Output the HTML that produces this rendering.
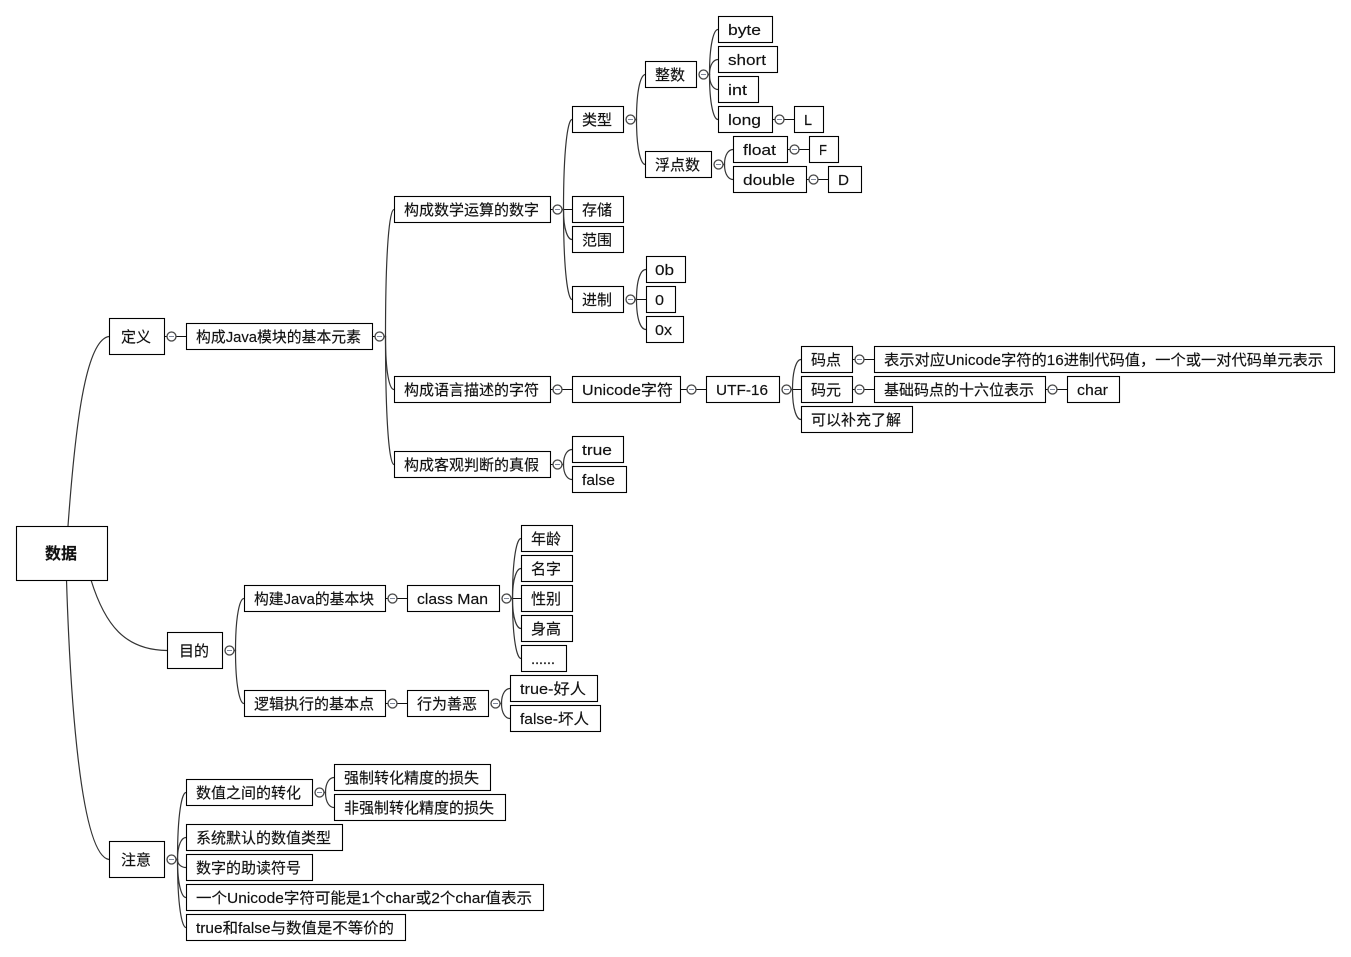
<!DOCTYPE html>
<html lang="zh">
<head>
<meta charset="utf-8">
<title>数据</title>
<style>
html,body{margin:0;padding:0;background:#fff;width:1351px;height:957px;overflow:hidden}
svg{display:block;position:absolute;left:0;top:0}
.l{fill:none;stroke:#333;stroke-width:1.2}
.s{fill:none;stroke:#111;stroke-width:1}
.b{fill:#fff;stroke:#000;stroke-width:1.1}
.c{fill:#fff;stroke:#444;stroke-width:1.3}
.m{stroke:#7f889c;stroke-width:1}
text{font-family:"Liberation Sans","Noto Sans CJK SC",sans-serif;font-size:15px;fill:#111;stroke:#111;stroke-width:.15}
.r{font-size:16px;font-weight:bold;fill:#111}
</style>
</head>
<body>
<svg width="1351" height="957" viewBox="0 0 1351 957" xmlns="http://www.w3.org/2000/svg">
<!-- root curves -->
<path class="l" d="M68 526C75 430 85 340 109 336.5"/>
<path class="l" d="M91 580C105 625 125 650 167 650.5"/>
<path class="l" d="M66.5 580C70 690 80 855 109 859.5"/>

<!-- 定义 branch -->
<path class="s" d="M165 336.5H186M373 336.5H378"/>
<path class="l" d="M383.5 336.5H385.5C385.5 247.5 389.5 209.5 394 209.5"/>
<path class="l" d="M383.5 336.5H385.5C385.5 373 389.5 389.5 394 389.5"/>
<path class="l" d="M383.5 336.5H385.5C385.5 426 389.5 464.5 394 464.5"/>

<path class="s" d="M551 209.5H553"/>
<path class="l" d="M561.5 209.5H563.5C563.5 146.5 568 119.5 572 119.5"/>
<path class="s" d="M561.5 209.5H572"/>
<path class="l" d="M561.500 209.500H563.500C563.500 230.500 568 239.500 572 239.500"/>
<path class="l" d="M561.500 209.500H563.500C563.500 272.500 568 299.500 572 299.500"/>

<path class="l" d="M634.500 119.500H636.500C636.500 88 641 74.500 645.500 74.500"/>
<path class="l" d="M634.500 119.500H636.500C636.500 151 641 164.500 645.500 164.500"/>
<path class="l" d="M707.500 74.500H709.500C709.500 43 714 29.500 718 29.500"/>
<path class="l" d="M707.500 74.500H709.500C709.500 64 714 59.500 718 59.500"/>
<path class="l" d="M707.500 74.500H709.500C709.500 85 714 89.500 718 89.500"/>
<path class="l" d="M707.500 74.500H709.500C709.500 106 714 119.500 718 119.500"/>
<path class="s" d="M773 119.500H794"/>
<path class="l" d="M722.500 164.500H724.500C724.500 154 729 149.500 733 149.500"/>
<path class="l" d="M722.500 164.500H724.500C724.500 175 729 179.500 733 179.500"/>
<path class="s" d="M788 149.500H809M807 179.500H828"/>

<path class="l" d="M634.500 299.500H636.500C636.500 278.500 641 269.500 646 269.500"/>
<path class="s" d="M634.500 299.500H646"/>
<path class="l" d="M634.500 299.500H636.500C636.500 320.500 641 329.500 646 329.500"/>

<path class="s" d="M551 389.500H572M681 389.500H706"/>
<path class="l" d="M790.500 389.500H792.500C792.500 368.500 797 359.500 801 359.500"/>
<path class="s" d="M790.500 389.500H801"/>
<path class="l" d="M790.500 389.500H792.500C792.500 410.500 797 419.500 801 419.500"/>
<path class="s" d="M852 359.500H874M852 389.500H874M1046 389.500H1067"/>

<path class="s" d="M551 464.500H553"/>
<path class="l" d="M561.500 464.500H563.500C563.500 454 568 449.500 572 449.500"/>
<path class="l" d="M561.500 464.500H563.500C563.500 475 568 479.500 572 479.500"/>

<!-- 目的 branch -->
<path class="l" d="M233.500 650.500H235.500C235.500 614 240 598.500 244 598.500"/>
<path class="l" d="M233.500 650.500H235.500C235.500 687.500 240 703.500 244 703.500"/>
<path class="s" d="M386 598.500H407M386 703.500H407"/>
<path class="l" d="M510.500 598.500H512.500C512.500 556.500 517 538.500 521 538.500"/>
<path class="l" d="M510.500 598.500H512.500C512.500 577.500 517 568.500 521 568.500"/>
<path class="s" d="M510.500 598.500H521"/>
<path class="l" d="M510.500 598.500H512.500C512.500 619.500 517 628.500 521 628.500"/>
<path class="l" d="M510.500 598.500H512.500C512.500 640.500 517 658.500 521 658.500"/>
<path class="l" d="M499.500 703.500H501.500C501.500 693 506 688.500 510 688.500"/>
<path class="l" d="M499.500 703.500H501.500C501.500 714 506 718.500 510 718.500"/>

<!-- 注意 branch -->
<path class="l" d="M175.500 859.500H177.500C177.500 812.500 182 792.500 186 792.500"/>
<path class="l" d="M175.500 859.500H177.500C177.500 844 182 837.500 186 837.500"/>
<path class="l" d="M175.500 859.500H177.500C177.500 865 182 867.500 186 867.500"/>
<path class="l" d="M175.500 859.500H177.500C177.500 886 182 897.500 186 897.500"/>
<path class="l" d="M175.500 859.500H177.500C177.500 907 182 927.500 186 927.500"/>
<path class="l" d="M323.500 792.500H325.500C325.500 782 330 777.500 334 777.500"/>
<path class="l" d="M323.500 792.500H325.500C325.500 803 330 807.500 334 807.500"/>

<!-- nodes -->
<rect class="b" x="16.5" y="526.500" width="91" height="54"/><text class="r" x="45" y="559" textLength="32">数据</text>
<rect class="b" x="109.500" y="318.500" width="55" height="36"/><text x="121" y="342" textLength="30">定义</text>
<rect class="b" x="186.500" y="323.500" width="186" height="26"/><text x="196" y="342" textLength="165" lengthAdjust="spacingAndGlyphs">构成Java模块的基本元素</text>
<rect class="b" x="394.500" y="196.500" width="156" height="26"/><text x="404" y="215" textLength="135">构成数学运算的数字</text>
<rect class="b" x="394.500" y="376.500" width="156" height="26"/><text x="404" y="395" textLength="135">构成语言描述的字符</text>
<rect class="b" x="394.500" y="451.500" width="156" height="26"/><text x="404" y="470" textLength="135">构成客观判断的真假</text>
<rect class="b" x="572.500" y="106.500" width="51" height="26"/><text x="582" y="125" textLength="30">类型</text>
<rect class="b" x="572.500" y="196.500" width="51" height="26"/><text x="582" y="215" textLength="30">存储</text>
<rect class="b" x="572.500" y="226.500" width="51" height="26"/><text x="582" y="245" textLength="30">范围</text>
<rect class="b" x="572.500" y="286.500" width="51" height="26"/><text x="582" y="305" textLength="30">进制</text>
<rect class="b" x="645.500" y="61.500" width="51" height="26"/><text x="655" y="80" textLength="30">整数</text>
<rect class="b" x="645.500" y="151.500" width="66" height="26"/><text x="655" y="170" textLength="45">浮点数</text>
<rect class="b" x="718.500" y="16.500" width="54" height="26"/><text x="728" y="35" textLength="33" lengthAdjust="spacingAndGlyphs">byte</text>
<rect class="b" x="718.500" y="46.500" width="59" height="26"/><text x="728" y="65" textLength="38" lengthAdjust="spacingAndGlyphs">short</text>
<rect class="b" x="718.500" y="76.500" width="40" height="26"/><text x="728" y="95" textLength="19" lengthAdjust="spacingAndGlyphs">int</text>
<rect class="b" x="718.500" y="106.500" width="54" height="26"/><text x="728" y="125" textLength="33" lengthAdjust="spacingAndGlyphs">long</text>
<rect class="b" x="794.500" y="106.500" width="29" height="26"/><text x="804" y="125" textLength="8" lengthAdjust="spacingAndGlyphs">L</text>
<rect class="b" x="733.500" y="136.500" width="54" height="26"/><text x="743" y="155" textLength="33" lengthAdjust="spacingAndGlyphs">float</text>
<rect class="b" x="809.500" y="136.500" width="29" height="26"/><text x="819" y="155" textLength="8" lengthAdjust="spacingAndGlyphs">F</text>
<rect class="b" x="733.500" y="166.500" width="73" height="26"/><text x="743" y="185" textLength="52" lengthAdjust="spacingAndGlyphs">double</text>
<rect class="b" x="828.500" y="166.500" width="33" height="26"/><text x="838" y="185" textLength="11" lengthAdjust="spacingAndGlyphs">D</text>
<rect class="b" x="646.500" y="256.500" width="39" height="26"/><text x="655" y="275" textLength="19" lengthAdjust="spacingAndGlyphs">0b</text>
<rect class="b" x="646.500" y="286.500" width="29" height="26"/><text x="655" y="305" textLength="9" lengthAdjust="spacingAndGlyphs">0</text>
<rect class="b" x="646.500" y="316.500" width="37" height="26"/><text x="655" y="335" textLength="17" lengthAdjust="spacingAndGlyphs">0x</text>
<rect class="b" x="572.500" y="376.500" width="108" height="26"/><text x="582" y="395" textLength="91" lengthAdjust="spacingAndGlyphs">Unicode字符</text>
<rect class="b" x="706.500" y="376.500" width="73" height="26"/><text x="716" y="395" textLength="52" lengthAdjust="spacingAndGlyphs">UTF-16</text>
<rect class="b" x="801.500" y="346.500" width="51" height="26"/><text x="811" y="365" textLength="30">码点</text>
<rect class="b" x="801.500" y="376.500" width="51" height="26"/><text x="811" y="395" textLength="30">码元</text>
<rect class="b" x="801.500" y="406.500" width="111" height="26"/><text x="811" y="425" textLength="90">可以补充了解</text>
<rect class="b" x="874.500" y="346.500" width="460" height="26"/><text x="884" y="365" textLength="439" lengthAdjust="spacingAndGlyphs">表示对应Unicode字符的16进制代码值，一个或一对代码单元表示</text>
<rect class="b" x="874.500" y="376.500" width="171" height="26"/><text x="884" y="395" textLength="150">基础码点的十六位表示</text>
<rect class="b" x="1067.500" y="376.500" width="52" height="26"/><text x="1077" y="395" textLength="31" lengthAdjust="spacingAndGlyphs">char</text>
<rect class="b" x="572.500" y="436.500" width="51" height="26"/><text x="582" y="455" textLength="30" lengthAdjust="spacingAndGlyphs">true</text>
<rect class="b" x="572.500" y="466.500" width="54" height="26"/><text x="582" y="485" textLength="33" lengthAdjust="spacingAndGlyphs">false</text>
<rect class="b" x="167.500" y="632.500" width="55" height="36"/><text x="179" y="656" textLength="30">目的</text>
<rect class="b" x="244.500" y="585.500" width="141" height="26"/><text x="254" y="604" textLength="120" lengthAdjust="spacingAndGlyphs">构建Java的基本块</text>
<rect class="b" x="407.500" y="585.500" width="92" height="26"/><text x="417" y="604" textLength="71" lengthAdjust="spacingAndGlyphs">class Man</text>
<rect class="b" x="521.500" y="525.500" width="51" height="26"/><text x="531" y="544" textLength="30">年龄</text>
<rect class="b" x="521.500" y="555.500" width="51" height="26"/><text x="531" y="574" textLength="30">名字</text>
<rect class="b" x="521.500" y="585.500" width="51" height="26"/><text x="531" y="604" textLength="30">性别</text>
<rect class="b" x="521.500" y="615.500" width="51" height="26"/><text x="531" y="634" textLength="30">身高</text>
<rect class="b" x="521.500" y="645.500" width="45" height="26"/><text x="531" y="664" textLength="24">......</text>
<rect class="b" x="244.500" y="690.500" width="141" height="26"/><text x="254" y="709" textLength="120">逻辑执行的基本点</text>
<rect class="b" x="407.500" y="690.500" width="81" height="26"/><text x="417" y="709" textLength="60">行为善恶</text>
<rect class="b" x="510.500" y="675.500" width="87" height="26"/><text x="520" y="694" textLength="66" lengthAdjust="spacingAndGlyphs">true-好人</text>
<rect class="b" x="510.500" y="705.500" width="90" height="26"/><text x="520" y="724" textLength="69" lengthAdjust="spacingAndGlyphs">false-坏人</text>
<rect class="b" x="109.500" y="841.500" width="55" height="36"/><text x="121" y="865" textLength="30">注意</text>
<rect class="b" x="186.500" y="779.500" width="126" height="26"/><text x="196" y="798" textLength="105">数值之间的转化</text>
<rect class="b" x="334.500" y="764.500" width="156" height="26"/><text x="344" y="783" textLength="135">强制转化精度的损失</text>
<rect class="b" x="334.500" y="794.500" width="171" height="26"/><text x="344" y="813" textLength="150">非强制转化精度的损失</text>
<rect class="b" x="186.500" y="824.500" width="156" height="26"/><text x="196" y="843" textLength="135">系统默认的数值类型</text>
<rect class="b" x="186.500" y="854.500" width="126" height="26"/><text x="196" y="873" textLength="105">数字的助读符号</text>
<rect class="b" x="186.500" y="884.500" width="357" height="26"/><text x="196" y="903" textLength="336" lengthAdjust="spacingAndGlyphs">一个Unicode字符可能是1个char或2个char值表示</text>
<rect class="b" x="186.500" y="914.500" width="219" height="26"/><text x="196" y="933" textLength="198" lengthAdjust="spacingAndGlyphs">true和false与数值是不等价的</text>

<!-- collapse circles -->
<g>
<circle class="c" cx="171.500" cy="336.500" r="4.500"/><path class="m" d="M169 336.500h5"/>
<circle class="c" cx="379.500" cy="336.500" r="4.500"/><path class="m" d="M377 336.500h5"/>
<circle class="c" cx="557.500" cy="209.500" r="4.500"/><path class="m" d="M555 209.500h5"/>
<circle class="c" cx="630.500" cy="119.500" r="4.500"/><path class="m" d="M628 119.500h5"/>
<circle class="c" cx="703.500" cy="74.500" r="4.500"/><path class="m" d="M701 74.500h5"/>
<circle class="c" cx="718.500" cy="164.500" r="4.500"/><path class="m" d="M716 164.500h5"/>
<circle class="c" cx="779.500" cy="119.500" r="4.500"/><path class="m" d="M777 119.500h5"/>
<circle class="c" cx="794.500" cy="149.500" r="4.500"/><path class="m" d="M792 149.500h5"/>
<circle class="c" cx="813.500" cy="179.500" r="4.500"/><path class="m" d="M811 179.500h5"/>
<circle class="c" cx="630.500" cy="299.500" r="4.500"/><path class="m" d="M628 299.500h5"/>
<circle class="c" cx="557.500" cy="389.500" r="4.500"/><path class="m" d="M555 389.500h5"/>
<circle class="c" cx="691.500" cy="389.500" r="4.500"/><path class="m" d="M689 389.500h5"/>
<circle class="c" cx="786.500" cy="389.500" r="4.500"/><path class="m" d="M784 389.500h5"/>
<circle class="c" cx="859.500" cy="359.500" r="4.500"/><path class="m" d="M857 359.500h5"/>
<circle class="c" cx="859.500" cy="389.500" r="4.500"/><path class="m" d="M857 389.500h5"/>
<circle class="c" cx="1052.500" cy="389.500" r="4.500"/><path class="m" d="M1050 389.500h5"/>
<circle class="c" cx="557.500" cy="464.500" r="4.500"/><path class="m" d="M555 464.500h5"/>
<circle class="c" cx="229.500" cy="650.500" r="4.500"/><path class="m" d="M227 650.500h5"/>
<circle class="c" cx="392.500" cy="598.500" r="4.500"/><path class="m" d="M390 598.500h5"/>
<circle class="c" cx="506.500" cy="598.500" r="4.500"/><path class="m" d="M504 598.500h5"/>
<circle class="c" cx="392.500" cy="703.500" r="4.500"/><path class="m" d="M390 703.500h5"/>
<circle class="c" cx="495.500" cy="703.500" r="4.500"/><path class="m" d="M493 703.500h5"/>
<circle class="c" cx="171.500" cy="859.500" r="4.500"/><path class="m" d="M169 859.500h5"/>
<circle class="c" cx="319.500" cy="792.500" r="4.500"/><path class="m" d="M317 792.500h5"/>
</g>
</svg>
</body>
</html>
